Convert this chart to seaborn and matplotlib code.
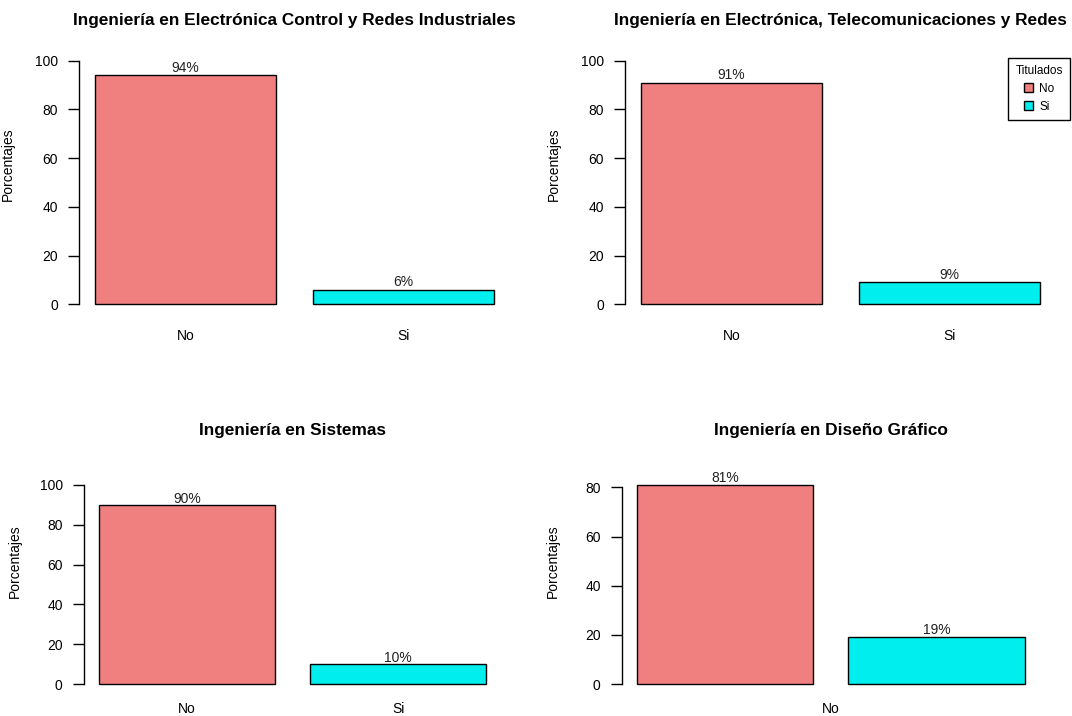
import matplotlib
matplotlib.use("Agg")
import matplotlib.pyplot as plt
import seaborn as sns
import pandas as pd
from matplotlib.patches import Patch

# data
carreras = [
    "Ingeniería en Electrónica Control y Redes Industriales",
    "Ingeniería en Electrónica, Telecomunicaciones y Redes",
    "Ingeniería en Sistemas",
    "Ingeniería en Diseño Gráfico",
]
categorias = ["No", "Si"]
pct_no = [94, 91, 90, 81]
pct_si = [6, 9, 10, 19]
y_ticks = [
    [0, 20, 40, 60, 80, 100],
    [0, 20, 40, 60, 80, 100],
    [0, 20, 40, 60, 80, 100],
    [0, 20, 40, 60, 80],
]
y_max = [100, 100, 100, 81]

colores = {"No": "#F08080", "Si": "#00EEEE"}

sns.set_style("white")
plt.rcParams["font.family"] = ["Liberation Sans", "DejaVu Sans"]
plt.rcParams["text.color"] = "black"
plt.rcParams["axes.labelcolor"] = "black"
plt.rcParams["xtick.color"] = "black"
plt.rcParams["ytick.color"] = "black"

fig = plt.figure(figsize=(10.72, 7.16), dpi=100)

# axes rectangles in pixels (left, top, right, bottom)
rects_px = [
    (79, 51, 510, 314),
    (625, 51, 1056, 314),
    (83.5, 477, 501.5, 692),
    (621.5, 477, 1040, 692),
]
W, H = 1072, 716

for i, carrera in enumerate(carreras):
    l, t, r, b = rects_px[i]
    ax = fig.add_axes([l / W, 1 - b / H, (r - l) / W, (b - t) / H])
    df = pd.DataFrame({"titulado": categorias, "pct": [pct_no[i], pct_si[i]]})
    sns.barplot(data=df, x="titulado", y="pct", hue="titulado",
                palette=colores, saturation=1, width=1 / 1.2,
                edgecolor="black", linewidth=1.0, legend=False, ax=ax)

    top = y_max[i]
    ext = top * 0.04
    ax.set_ylim(-ext, top + ext)
    ax.set_xlim(-0.49, 1.49)

    for j, v in enumerate(df["pct"]):
        ax.text(j, v + 3, f"{v}%", ha="center", va="center", fontsize=10,
                color="#222222")

    for s in ["top", "right", "bottom"]:
        ax.spines[s].set_visible(False)
    ax.spines["left"].set_bounds(y_ticks[i][0], y_ticks[i][-1])
    ax.spines["left"].set_linewidth(1.0)
    ax.spines["left"].set_color("black")
    ax.set_yticks(y_ticks[i])
    ax.tick_params(axis="y", length=8, width=1, pad=7, labelsize=10,
                   left=True)

    if i == 3:
        # in the reference only one category label is drawn, centred
        ax.set_xticks([0.5])
        ax.set_xticklabels(["No"])
    else:
        ax.set_xticks([0, 1])
        ax.set_xticklabels(categorias)
    ax.tick_params(axis="x", length=0, pad=11 if i < 2 else 7, labelsize=10)

    ax.set_xlabel("")
    ax.set_ylabel("Porcentajes", fontsize=10)
    ax.yaxis.set_label_coords(-0.148, 0.57 if i < 2 else 0.61)

    cx = (l + r) / 2 / W
    ty = 20 if i < 2 else 430
    fig.text(cx, 1 - ty / H, carrera, ha="center", va="center",
             fontsize=12.4, fontweight="bold")

    if i == 1:
        handles = [Patch(facecolor=colores[c], edgecolor="black", linewidth=1)
                   for c in categorias]
        leg = fig.legend(handles, categorias, title="Titulados",
                         loc="upper right",
                         bbox_to_anchor=(1070 / W, 1 - 58 / H),
                         borderaxespad=0,
                         fontsize=8.5, title_fontsize=8.5, fancybox=False,
                         edgecolor="black", framealpha=1,
                         handlelength=0.8, handleheight=0.8,
                         handletextpad=0.5, borderpad=0.6, labelspacing=0.5)
        leg.get_frame().set_linewidth(1.0)

fig.savefig("out.png", dpi=100, facecolor="white")
